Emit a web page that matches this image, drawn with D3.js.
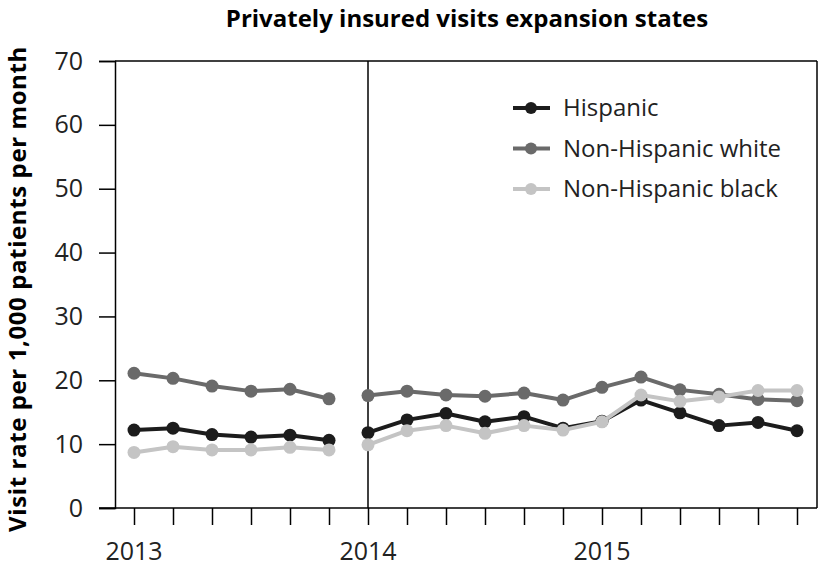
<!DOCTYPE html>
<html><head><meta charset="utf-8">
<script src="https://cdn.jsdelivr.net/npm/d3@7"></script>
<style>body{margin:0;background:#fff}svg{display:block}text{font-family:"Open Sans",sans-serif}</style>
</head><body>
<svg id="c" width="821" height="566"></svg>
<script>
const title = "Privately insured visits expansion states";
const yLabel = "Visit rate per 1,000 patients per month";
const months2013 = [0, 2, 4, 6, 8, 10];
const months2014 = [12, 14, 16, 18, 20, 22, 24, 26, 28, 30, 32, 34];
const tickMonths = [0, 2, 4, 6, 8, 10, 12, 14, 16, 18, 20, 22, 24, 26, 28, 30, 32, 34];
const yearLabels = ["2013", "2014", "2015"];
const yearMonths = [0, 12, 24];
const yTicks = [0, 10, 20, 30, 40, 50, 60, 70];
const seriesNames = ["Hispanic", "Non-Hispanic white", "Non-Hispanic black"];
const seriesColors = ["#1c1c1c", "#6a6a6a", "#c4c4c4"];
const hispanic2013 = [12.2, 12.5, 11.5, 11.1, 11.4, 10.6];
const white2013 = [21.1, 20.3, 19.1, 18.3, 18.6, 17.1];
const black2013 = [8.7, 9.6, 9.1, 9.1, 9.5, 9.1];
const hispanic2014 = [11.8, 13.8, 14.8, 13.5, 14.3, 12.5, 13.6, 16.9, 14.9, 12.9, 13.4, 12.1];
const white2014 = [17.6, 18.3, 17.7, 17.5, 18.0, 16.9, 18.9, 20.5, 18.5, 17.8, 17.0, 16.8];
const black2014 = [9.9, 12.1, 12.9, 11.7, 12.9, 12.2, 13.5, 17.7, 16.7, 17.4, 18.4, 18.4];

const svg = d3.select("#c");
const pL = 115, pR = 817, pT = 61, pB = 508;
const x = d3.scaleLinear().domain([0, 34]).range([134, 797]);
const y = d3.scaleLinear().domain([0, 70]).range([pB, pT]);

// frame
svg.append("line").attr("x1", pL).attr("x2", pR).attr("y1", pT).attr("y2", pT).attr("stroke", "#000").attr("stroke-width", 1.5);
svg.append("line").attr("x1", pR).attr("x2", pR).attr("y1", pT).attr("y2", pB).attr("stroke", "#000").attr("stroke-width", 1.5);
svg.append("line").attr("x1", x(12)).attr("x2", x(12)).attr("y1", pT).attr("y2", pB).attr("stroke", "#000").attr("stroke-width", 1.5);

// y axis
const yAxis = d3.axisLeft(y).tickValues(yTicks).tickSize(16).tickPadding(16);
const gy = svg.append("g").attr("transform", `translate(${pL},0)`).call(yAxis);
gy.select(".domain").attr("stroke-width", 1.5);
gy.selectAll(".tick line").attr("stroke-width", 1.5);
gy.selectAll(".tick text").attr("font-size", 25).attr("font-family", "Open Sans").attr("fill", "#222");

// bottom line extending to left
svg.append("line").attr("x1", pL - 16).attr("x2", pR).attr("y1", pB).attr("y2", pB).attr("stroke", "#000").attr("stroke-width", 1.5);

// x axis ticks
const xAxis = d3.axisBottom(x).tickValues(tickMonths).tickSize(17).tickFormat("");
const gx = svg.append("g").attr("transform", `translate(0,${pB})`).call(xAxis);
gx.select(".domain").remove();
gx.selectAll(".tick line").attr("stroke-width", 1.5);
svg.selectAll(".yearlab").data(yearMonths).enter().append("text")
  .attr("x", d => x(d)).attr("y", 560).attr("text-anchor", "middle")
  .attr("font-size", 25).attr("fill", "#222").text((d, i) => yearLabels[i]);

// title and y label
svg.append("text").attr("x", 467).attr("y", 27).attr("text-anchor", "middle")
  .attr("font-size", 24).attr("font-weight", "bold").text(title);
svg.append("text").attr("transform", "translate(26,289) rotate(-90)").attr("text-anchor", "middle")
  .attr("font-size", 24).attr("letter-spacing", 0.6).attr("font-weight", "bold").text(yLabel);

// series
const groups = [
  [hispanic2013, hispanic2014],
  [white2013, white2014],
  [black2013, black2014]
];
const line = d3.line().x(d => x(d[0])).y(d => y(d[1]));
groups.forEach((g, si) => {
  const segs = [d3.zip(months2013, g[0]), d3.zip(months2014, g[1])];
  segs.forEach(seg => {
    svg.append("path").datum(seg).attr("d", line).attr("fill", "none")
      .attr("stroke", seriesColors[si]).attr("stroke-width", 4).attr("stroke-linejoin", "round");
    svg.selectAll(null).data(seg).enter().append("circle")
      .attr("cx", d => x(d[0])).attr("cy", d => y(d[1])).attr("r", 6.5).attr("fill", seriesColors[si]);
  });
});

// legend
const lg = svg.append("g");
seriesNames.forEach((n, i) => {
  const yy = 108 + i * 40.5;
  lg.append("line").attr("x1", 513).attr("x2", 550).attr("y1", yy).attr("y2", yy)
    .attr("stroke", seriesColors[i]).attr("stroke-width", 4);
  lg.append("circle").attr("cx", 531).attr("cy", yy).attr("r", 6).attr("fill", seriesColors[i]);
  lg.append("text").attr("x", 563).attr("y", yy + 8).attr("font-size", 24).attr("fill", "#222").text(n);
});
</script>
</body></html>
